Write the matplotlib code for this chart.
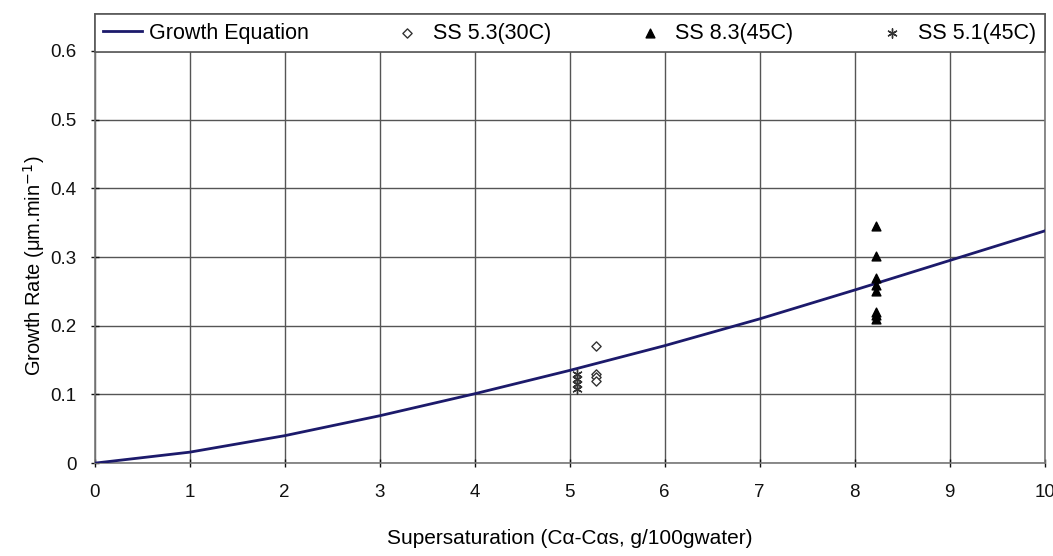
import numpy as np
import matplotlib.pyplot as plt
from matplotlib.ticker import FormatStrFormatter

plt.rcParams['font.family'] = ['Liberation Sans', 'DejaVu Sans']

# growth equation curve
eq_x = [0, 1, 2, 3, 4, 5, 6, 7, 8, 9, 10]
eq_y = [0, 0.016, 0.040, 0.069, 0.101, 0.135, 0.171, 0.210, 0.252, 0.295, 0.338]

# measured points
ss53_x = [5.28, 5.28, 5.28, 5.28]
ss53_y = [0.170, 0.130, 0.125, 0.120]
ss83_x = [8.22] * 8
ss83_y = [0.345, 0.302, 0.270, 0.260, 0.250, 0.220, 0.215, 0.210]
ss51_x = [5.08, 5.08, 5.08, 5.08]
ss51_y = [0.130, 0.122, 0.115, 0.108]

xticks = np.arange(0, 11, 1)
yticks = [0, 0.1, 0.2, 0.3, 0.4, 0.5, 0.6]

fig = plt.figure(figsize=(10.53, 5.56), dpi=100)
ax = fig.add_axes([0.090, 0.167, 0.902, 0.808])

ax.plot(eq_x, eq_y, color='#1c1a6b', lw=2, label='Growth Equation', zorder=3)
ax.scatter(ss53_x, ss53_y, marker='D', s=22, facecolors='white',
           edgecolors='#333333', linewidths=1, label='SS 5.3(30C)', zorder=4)
ax.scatter(ss83_x, ss83_y, marker='^', s=40, color='black',
           label='SS 8.3(45C)', zorder=4)
ax.scatter(ss51_x, ss51_y, marker=(6, 2, 0), s=45, color='#333333',
           linewidths=1, label='SS 5.1(45C)', zorder=4)

ax.set_xlim(0, 10)
ax.set_ylim(0, 0.654)
ax.set_xticks(xticks)
ax.set_yticks(yticks)
ax.yaxis.set_major_formatter(FormatStrFormatter('%g'))
ax.grid(True, color='#555555', lw=1)
ax.set_axisbelow(True)
for s in ax.spines.values():
    s.set_color('#777777')
    s.set_linewidth(1.2)
ax.tick_params(axis='both', labelsize=13.5, colors='#111111', length=6,
               width=1, direction='inout')
ax.tick_params(axis='x', pad=12)
ax.tick_params(axis='y', pad=10)

ax.set_xlabel('Supersaturation (C\u03b1-C\u03b1s, g/100gwater)', fontsize=15,
              labelpad=20)
ax.set_ylabel('Growth Rate (\u03bcm.min$^{-1}$)', fontsize=14.5)
ax.yaxis.set_label_coords(-0.05, 0.44)

leg = ax.legend(loc='upper left', bbox_to_anchor=(0.0, 1.0, 1.0, 0.0),
                mode='expand', ncol=4, fontsize=15.5, frameon=True,
                fancybox=False, edgecolor='#555555', framealpha=1,
                borderaxespad=0, handlelength=1.8, borderpad=0.4,
                handletextpad=0.3, columnspacing=1.5)
leg.get_frame().set_linewidth(1.2)

plt.savefig('out.png', dpi=100)
